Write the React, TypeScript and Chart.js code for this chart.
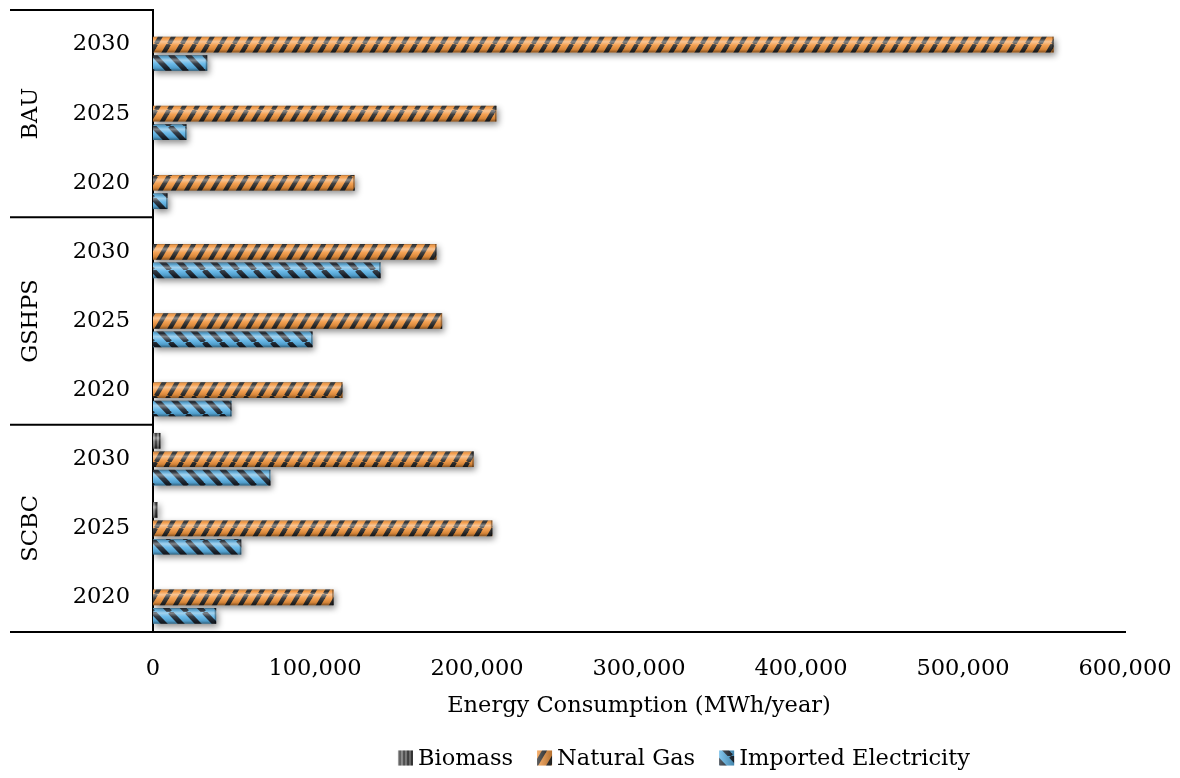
import { useEffect, useRef } from 'react';
import { Chart, registerables } from 'chart.js';

Chart.register(...registerables);

const FONT = "'DejaVu Serif', serif";

// Scenarios and years, listed top to bottom
const scenarios = ['BAU', 'GSHPS', 'SCBC'];
const years = ['2030', '2025', '2020'];
const categoryLabels = scenarios.flatMap(() => years);

// Energy consumption, MWh/year, same order as categoryLabels
const biomass = [0, 0, 0, 0, 0, 0, 4600, 2800, 0];
const naturalGas = [556000, 212000, 124500, 175000, 178500, 117000, 198000, 209500, 111500];
const importedElectricity = [33500, 20700, 9000, 140500, 98500, 48500, 72500, 54500, 39000];

const seriesNames = ['Biomass', 'Natural Gas', 'Imported Electricity'];

const xMax = 600000;
const xStep = 100000;
const xTitle = 'Energy Consumption (MWh/year)';

function stripePattern(
  w: number,
  h: number,
  base: string,
  stripe: string,
  dir: '/' | '\\' | '|',
  lw: number
): CanvasPattern | string {
  const c = document.createElement('canvas');
  c.width = w;
  c.height = h;
  const g = c.getContext('2d');
  if (!g) return base;
  g.fillStyle = base;
  g.fillRect(0, 0, w, h);
  g.strokeStyle = stripe;
  g.lineWidth = lw;
  if (dir === '|') {
    g.beginPath();
    g.moveTo(w / 2, 0);
    g.lineTo(w / 2, h);
    g.stroke();
  } else {
    for (const off of [-w, 0, w]) {
      g.beginPath();
      if (dir === '/') {
        g.moveTo(off, h);
        g.lineTo(off + w, 0);
      } else {
        g.moveTo(off, 0);
        g.lineTo(off + w, h);
      }
      g.stroke();
    }
  }
  return g.createPattern(c, 'repeat') || base;
}

// Soft drop shadow under the bars plus a glossy highlight on each bar
const bevelPlugin = {
  id: 'bevel',
  beforeDatasetsDraw(chart: any) {
    const ctx = chart.ctx;
    ctx.save();
    ctx.shadowColor = 'rgba(0,0,0,0.45)';
    ctx.shadowBlur = 6;
    ctx.shadowOffsetX = 2;
    ctx.shadowOffsetY = 3;
  },
  afterDatasetsDraw(chart: any) {
    const ctx = chart.ctx;
    ctx.restore();
    ctx.save();
    chart.data.datasets.forEach((_: any, di: number) => {
      const meta = chart.getDatasetMeta(di);
      meta.data.forEach((el: any) => {
        const { x, y, base, height } = el.getProps(['x', 'y', 'base', 'height'], true);
        const left = Math.min(x, base);
        const w = Math.abs(x - base);
        if (w < 0.5) return;
        const top = y - height / 2;
        const gr = ctx.createLinearGradient(0, top, 0, top + height);
        gr.addColorStop(0, 'rgba(0,0,0,0.35)');
        gr.addColorStop(0.12, 'rgba(255,255,255,0.05)');
        gr.addColorStop(0.32, 'rgba(255,255,255,0.45)');
        gr.addColorStop(0.55, 'rgba(255,255,255,0.1)');
        gr.addColorStop(0.82, 'rgba(0,0,0,0.12)');
        gr.addColorStop(1, 'rgba(0,0,0,0.45)');
        ctx.fillStyle = gr;
        ctx.fillRect(left, top, w, height);
        // darker cap at the value end
        ctx.fillStyle = 'rgba(0,0,0,0.35)';
        ctx.fillRect(Math.max(x, base) - 1.5, top, 1.5, height);
      });
    });
    ctx.restore();
  },
};

// Scenario bands on the left of the category axis
const groupPlugin = {
  id: 'groups',
  afterDraw(chart: any) {
    const ctx = chart.ctx;
    const ys = chart.scales.y;
    const area = chart.chartArea;
    const n = categoryLabels.length;
    const per = years.length;
    const edge = (i: number) => {
      if (i <= 0) return area.top;
      if (i >= n) return area.bottom;
      return (ys.getPixelForTick(i - 1) + ys.getPixelForTick(i)) / 2;
    };
    ctx.save();
    ctx.strokeStyle = '#000';
    ctx.lineWidth = 2;
    for (let g = 0; g <= scenarios.length; g++) {
      const yy = edge(g * per);
      ctx.beginPath();
      ctx.moveTo(10, yy);
      ctx.lineTo(area.left, yy);
      ctx.stroke();
    }
    ctx.fillStyle = '#000';
    ctx.font = `22.5px ${FONT}`;
    ctx.textAlign = 'center';
    ctx.textBaseline = 'middle';
    scenarios.forEach((s, g) => {
      const cy = (edge(g * per) + edge((g + 1) * per)) / 2;
      ctx.save();
      ctx.translate(31, cy);
      ctx.rotate(-Math.PI / 2);
      ctx.fillText(s, 0, 0);
      ctx.restore();
    });
    ctx.restore();
  },
};

// Legend row under the axis title
const legendPlugin = {
  id: 'legendRow',
  afterDraw(chart: any) {
    const ctx = chart.ctx;
    const box = 15;
    const gapBoxText = 5;
    const gapItems = 24;
    ctx.save();
    ctx.font = `22.5px ${FONT}`;
    ctx.textBaseline = 'middle';
    ctx.textAlign = 'left';
    const items = chart.data.datasets.map((d: any) => ({
      label: d.label,
      fill: d.backgroundColor,
      w: ctx.measureText(d.label).width,
    }));
    const total =
      items.reduce((s: number, it: any) => s + box + gapBoxText + it.w, 0) + gapItems * (items.length - 1);
    let x = 684 - total / 2;
    const cy = 758;
    items.forEach((it: any) => {
      ctx.fillStyle = it.fill;
      ctx.fillRect(x, cy - box / 2, box, box);
      const gr = ctx.createLinearGradient(x, 0, x + box, 0);
      gr.addColorStop(0, 'rgba(255,255,255,0.25)');
      gr.addColorStop(1, 'rgba(0,0,0,0.25)');
      ctx.fillStyle = gr;
      ctx.fillRect(x, cy - box / 2, box, box);
      x += box + gapBoxText;
      ctx.fillStyle = '#000';
      ctx.fillText(it.label, x, cy + 1);
      x += it.w + gapItems;
    });
    ctx.restore();
  },
};

export default function App() {
  const ref = useRef<HTMLCanvasElement | null>(null);

  useEffect(() => {
    if (!ref.current) return;
    const bioFill = stripePattern(4, 4, '#3a3a3a', '#b8b8b8', '|', 1);
    const gasFill = stripePattern(13, 22, '#F2963F', '#2a2a2a', '/', 4.4);
    const elecFill = stripePattern(17, 18, '#5AB2E6', '#1c2530', '\\', 5);

    const chart = new Chart(ref.current, {
      type: 'bar',
      data: {
        labels: categoryLabels,
        datasets: [
          { label: seriesNames[0], data: biomass, backgroundColor: bioFill as any, borderWidth: 0 },
          { label: seriesNames[1], data: naturalGas, backgroundColor: gasFill as any, borderWidth: 0 },
          { label: seriesNames[2], data: importedElectricity, backgroundColor: elecFill as any, borderWidth: 0 },
        ],
      },
      options: {
        indexAxis: 'y',
        responsive: false,
        animation: false,
        datasets: { bar: { categoryPercentage: 0.8, barPercentage: 0.85 } },
        layout: { padding: { top: 10, right: 55, bottom: 58, left: 0 } },
        plugins: {
          legend: { display: false },
          tooltip: { enabled: false },
        },
        scales: {
          x: {
            min: 0,
            max: xMax,
            grid: { display: false, drawTicks: false },
            border: { display: true, color: '#000', width: 2 },
            ticks: {
              stepSize: xStep,
              padding: 24,
              color: '#000',
              font: { family: FONT, size: 22.5 },
              maxRotation: 0,
              callback: (v: any) => Number(v).toLocaleString('en-US'),
            },
            title: {
              display: true,
              text: xTitle,
              color: '#000',
              font: { family: FONT, size: 22.5 },
              padding: { top: 0, bottom: 0 },
            },
            afterFit: (s: any) => {
              s.height = 88;
              s.paddingLeft = 0;
              s.paddingRight = 0;
            },
          },
          y: {
            grid: { display: false, drawTicks: false },
            border: { display: true, color: '#000', width: 2 },
            ticks: {
              padding: 23,
              color: '#000',
              font: { family: FONT, size: 22.5 },
            },
            afterFit: (s: any) => {
              s.width = 153;
              s.paddingTop = 0;
              s.paddingBottom = 0;
            },
          },
        },
      },
      plugins: [bevelPlugin, groupPlugin, legendPlugin],
    });
    return () => chart.destroy();
  }, []);

  return (
    <div style={{ position: 'absolute', left: 0, top: 0, width: 1180, height: 778, background: '#fff' }}>
      <canvas ref={ref} width={1180} height={778} style={{ width: 1180, height: 778 }} />
    </div>
  );
}
